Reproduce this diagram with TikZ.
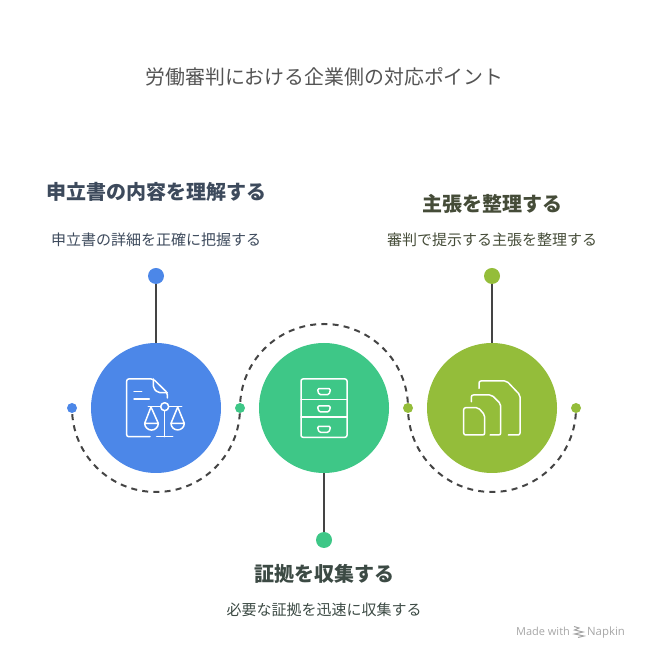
\documentclass[tikz,border=0pt]{standalone}
\usepackage{fontspec}
\setmainfont{Noto Sans CJK JP}
\newfontfamily\latinfont{Open Sans}
\usetikzlibrary{positioning, backgrounds}

\definecolor{stepblue}{HTML}{4C87E8}
\definecolor{stepgreen}{HTML}{3EC787}
\definecolor{steplime}{HTML}{94BD3A}
\definecolor{linegray}{HTML}{444444}
\definecolor{stepslate}{HTML}{3D4A5C}
\definecolor{stepolive}{HTML}{454C38}
\definecolor{stepteal}{HTML}{3C4A44}

\begin{document}
\begin{tikzpicture}[
  x=1pt, y=1pt,
  node distance=38pt,
  stepdisc/.style={circle, inner sep=0pt, outer sep=0pt, minimum size=130pt},
  enddot/.style={circle, inner sep=0pt, outer sep=0pt, minimum size=16pt},
  sidedot/.style={circle, inner sep=0pt, outer sep=0pt, minimum size=10pt},
  heading/.style={inner sep=0pt, outer sep=0pt, text height=16pt, text depth=4pt, font=\fontsize{20pt}{22pt}\selectfont\bfseries},
  detail/.style={inner sep=0pt, outer sep=0pt, text height=12pt, text depth=3pt, font=\fontsize{15pt}{18pt}\selectfont},
  credit/.style={inner sep=0pt, text=black!35, anchor=base, font=\latinfont\fontsize{11pt}{13pt}\selectfont},
  stem/.style={line width=2pt, draw=linegray},
  dashline/.style={line width=2pt, draw=linegray, dash pattern=on 6pt off 5.2pt, dash phase=5pt},
  icon/.style={line width=1.5pt, draw=white, line cap=round, line join=round}
]

\useasboundingbox (0,0) rectangle (648,660);

% title
\node[inner sep=0pt, text=black!67, font=\fontsize{19.9pt}{22pt}\selectfont] (title) at (324.5,583) {労働審判における企業側の対応ポイント};

% big discs
\node[stepdisc, fill=stepblue] (blue) at (156,252) {};
\node[stepdisc, fill=stepgreen, right=of blue] (green) {};
\node[stepdisc, fill=steplime, right=of green] (lime) {};

% dots on the wave
\node[sidedot, fill=stepblue, left=14pt of blue] (dotblue) {};
\node[sidedot, fill=stepgreen, right=14pt of blue] (dotgreen) {};
\node[sidedot, fill=steplime, right=14pt of green] (dotlime) {};
\node[sidedot, fill=steplime, right=14pt of lime] (dotend) {};

% dots on the stems
\node[enddot, fill=stepblue, above=59pt of blue] (topblue) {};
\node[enddot, fill=stepgreen, below=59pt of green] (topgreen) {};
\node[enddot, fill=steplime, above=59pt of lime] (toplime) {};

\draw[stem] (topblue) -- (blue);
\draw[stem] (topgreen) -- (green);
\draw[stem] (toplime) -- (lime);

% wave
\coordinate[below=84pt of blue.center, anchor=center] (lowblue);
\coordinate[above=84pt of green.center, anchor=center] (highgreen);
\coordinate[below=84pt of lime.center, anchor=center] (lowlime);
\begin{pgfonlayer}{background}
\draw[dashline] (dotblue.center) to[out=-90, in=180] (lowblue) to[out=0, in=-90] (dotgreen.center);
\draw[dashline] (dotgreen.center) to[out=90, in=180] (highgreen) to[out=0, in=90] (dotlime.center);
\draw[dashline] (dotlime.center) to[out=-90, in=180] (lowlime) to[out=0, in=-90] (dotend.center);
\end{pgfonlayer}

% texts
\node[detail, text=stepslate, above=19pt of topblue] (subblue) {申立書の詳細を正確に把握する};
\node[heading, text=stepslate, above=30pt of subblue] (headblue) {申立書の内容を理解する};
\node[detail, text=stepolive, above=19pt of toplime] (sublime) {審判で提示する主張を整理する};
\node[heading, text=stepolive, above=18pt of sublime] (headlime) {主張を整理する};
\node[heading, text=stepteal, below=17.5pt of topgreen] (headgreen) {証拠を収集する};
\node[detail, text=stepteal, below=18.5pt of headgreen] (subgreen) {必要な証拠を迅速に収集する};

% footer
\node[credit] (made) at (543,24) {Made with};
\node[credit, font=\latinfont\fontsize{11.4pt}{13pt}\selectfont] (napkin) at (606,24) {Napkin};
\draw[line width=1pt, draw=black!35] (574,33.5) -- (579,32) -- (574.5,30) -- (583,28) -- (574.5,26) -- (584,24) -- (578,22.5);

% balance and paper
\begin{scope}[shift={(blue.center)}]
\draw[icon, rounded corners=2pt] (-6,-28.7) -- (-29.3,-28.7) -- (-29.3,29) -- (-2.7,29) -- (11.3,15.3) -- (11.3,10);
\draw[icon, rounded corners=2pt] (-2.7,29) -- (-2.7,20) -- (2,15.3) -- (11.3,15.3);
\draw[icon] (-22,16.7) -- (-14.3,16.7);
\draw[icon] (-22,9) -- (-6.7,9);
\draw[icon] (8.7,1.3) circle (4);
\draw[icon] (-7.7,1.3) -- (4.7,1.3);
\draw[icon] (12.7,1.3) -- (25.7,1.3);
\draw[icon] (8.7,-2.7) -- (8.7,-28.7);
\draw[icon] (0.7,-28.7) -- (16.7,-28.7);
\draw[icon] (-5,1) -- (-11.3,-15.3) -- (2.3,-15.3) -- cycle;
\draw[icon] (-11.3,-15.3) arc[start angle=180, end angle=360, radius=6.8];
\draw[icon] (21.7,1) -- (15,-15.3) -- (28.3,-15.3) -- cycle;
\draw[icon] (15,-15.3) arc[start angle=180, end angle=360, radius=6.65];
\end{scope}

% drawers
\begin{scope}[shift={(green.center)}]
\draw[icon, rounded corners=2pt] (-23,-29.3) rectangle (23,29);
\draw[icon] (-23,8.7) -- (23,8.7);
\draw[icon] (-23,-9) -- (23,-9);
\foreach \handley in {16.3,-1,-21.3} {
  \draw[icon, rounded corners=1.5pt] (0,\handley+3) -- (6.7,\handley+3) -- (5,\handley-3) -- (-5,\handley-3) -- (-6.7,\handley+3) -- cycle;
}
\end{scope}

% three sheets
\begin{scope}[shift={(lime.center)}]
\draw[icon, rounded corners=2pt] (-13,19.7) -- (-13,27) -- (14.7,27) -- (28,13) -- (28,-27) -- (16.3,-27);
\draw[icon, rounded corners=2pt] (-20.7,6.3) -- (-20.7,13) -- (-0.3,13) -- (8.7,4) -- (8.7,-27) -- (-2,-27);
\draw[icon, rounded corners=2pt] (-20,0.3) -- (-13.7,0.3) -- (-7.3,-7) -- (-7.3,-27) -- (-28.3,-27) -- (-28.3,0.3) -- cycle;
\end{scope}

\end{tikzpicture}
\end{document}
